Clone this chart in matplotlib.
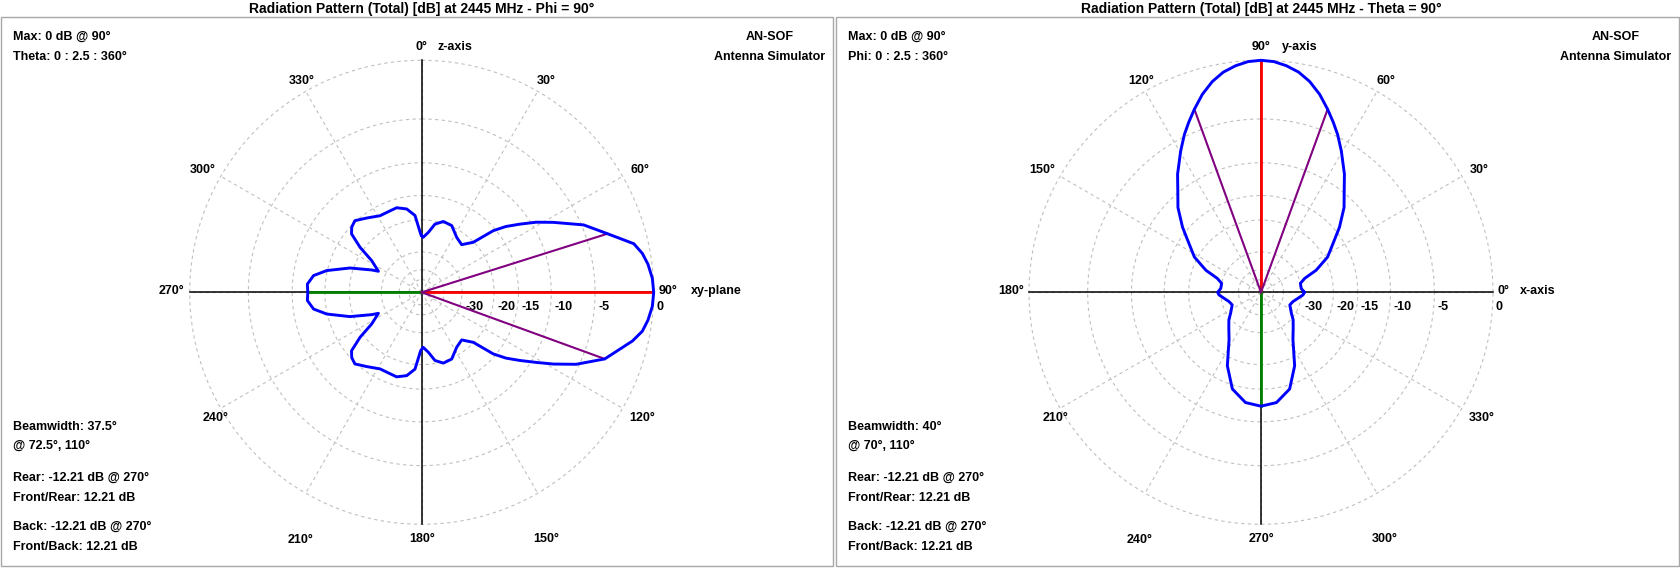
import numpy as np
import matplotlib.pyplot as plt
from matplotlib.patches import Rectangle

W, H = 1681, 568

# Phi = 90 cut, angle theta from z-axis (top), clockwise on screen
theta_deg = [0, 1.5, 6.4, 11, 17, 24.2, 32.5, 40, 45.9, 49.3, 52, 55.2, 58.5, 62, 67.4, 72.5,
             77.1, 80, 82.9, 86.5, 90, 93.5, 97, 100, 103, 110, 115, 118.6, 121.5, 124.8, 128,
             130.7, 134.1, 140, 147.5, 155.8, 163, 169, 173.6, 178.5, 181, 185, 190.2, 196.5,
             203.6, 208.5, 216.5, 223, 227, 230.2, 233.9, 237.6, 244.1, 245.9, 251.3, 257.1,
             261.2, 265.9, 270, 274.1, 278.8, 282.9, 288.7, 294.1, 295.9, 302.4, 306.1, 309.8,
             313, 317, 323.5, 331.5, 336.4, 343.5, 349.8, 355, 359, 360]
theta_db = [-24.2, -24.7, -23.1, -20.7, -19.6, -19.8, -21.8, -22.6, -20.1, -15.4, -13.3, -11.4,
            -9.4, -7.6, -4.8, -3.0, -1.1, -0.6, -0.3, -0.07, 0.0, -0.07, -0.3, -0.6, -1.2, -3.0,
            -5.3, -7.5, -9.4, -11.4, -13.3, -15.4, -20.1, -22.6, -21.8, -19.8, -19.6, -20.7,
            -23.1, -24.7, -23.7, -18.9, -17.3, -16.6, -16.8, -16.8, -15.8, -14.8, -15.2, -16.0,
            -19.1, -23.4, -27.0, -24.8, -19.2, -14.9, -12.9, -12.1, -12.21, -12.1, -12.9, -14.9,
            -19.2, -24.8, -27.0, -23.4, -19.1, -16.0, -15.2, -14.8, -15.8, -16.8, -16.8, -16.6,
            -17.3, -18.9, -23.7, -24.2]

# Theta = 90 cut, angle phi from x-axis (right), counter-clockwise
phi_deg = [0, 5.6, 12.8, 17.7, 21.8, 27.9, 35.3, 39.7, 45.6, 50.6, 54.8, 60.4, 64.1, 67, 70,
           73.5, 77, 80.3, 83.6, 86.8, 90, 93.2, 96.4, 99.7, 103, 106.5, 110, 113, 115.9, 119.6,
           125.2, 129.4, 134.4, 140.3, 144.7, 152.1, 158.2, 162.3, 167.2, 174.4, 180, 183.6,
           196.1, 203.6, 214.4, 220.6, 228, 235.9, 245.4, 253.5, 262, 270, 278, 286.5, 294.6,
           304.1, 312, 319.4, 325.6, 336.4, 343.9, 356.4, 360]
phi_db = [-28.8, -30.0, -30.0, -27.8, -23.4, -19.3, -16.3, -14.1, -11.5, -9.8, -8.1, -6.1, -4.8,
          -3.9, -3.0, -2.0, -1.2, -0.65, -0.3, -0.07, 0.0, -0.07, -0.3, -0.65, -1.2, -2.0, -3.0,
          -3.9, -4.8, -6.1, -8.1, -9.8, -11.5, -14.1, -16.3, -19.3, -23.4, -27.8, -30.0, -30.0,
          -28.8, -29.3, -33.3, -34.3, -31.6, -29.2, -27.0, -24.1, -18.1, -14.3, -12.6, -12.21,
          -12.6, -14.3, -18.1, -24.1, -27.0, -29.2, -31.6, -34.3, -33.3, -29.3, -28.8]

ring_db = [0, -5, -10, -15, -20, -30, -40, -50]
ring_text = ['0', '-5', '-10', '-15', '-20', '-30']
angle_ticks = list(range(0, 360, 30))

FONT = ['Liberation Sans', 'DejaVu Sans']


def arrl(db):
    # ARRL log-periodic radial scale
    return 0.89 ** (-np.asarray(db, dtype=float) / 2.0)


panels = [
    dict(title='Radiation Pattern (Total) [dB] at 2445 MHz - Phi = 90°', cx=421.7, x0=1, x1=833,
         ang=theta_deg, db=theta_db, zero='N', sign=-1, axis_names=('z-axis', 'xy-plane'),
         scan='Theta: 0 : 2.5 : 360°', beam=(72.5, 110), maxang=90, back=270, back_db=-12.21,
         name_dx=(16, 37)),
    dict(title='Radiation Pattern (Total) [dB] at 2445 MHz - Theta = 90°', cx=1261, x0=836, x1=1679,
         ang=phi_deg, db=phi_db, zero='E', sign=1, axis_names=('y-axis', 'x-axis'),
         scan='Phi: 0 : 2.5 : 360°', beam=(70, 110), maxang=90, back=270, back_db=-12.21,
         name_dx=(21, 27)),
]

# screen-angle label offsets in px (dx right, dy down) and alignment
label_off = {0: (0, -13, 'center'), 30: (9, -10, 'center'), 60: (17, -6, 'center'),
             90: (5, -1, 'left'), 120: (20, 10, 'center'), 150: (8, 46, 'center'),
             180: (0, 15, 'center'), 210: (-5, 47, 'center'), 240: (-5, 10, 'center'),
             270: (-5, -1, 'right'), 300: (-18, -6, 'center'), 330: (-4, -10, 'center')}

cy, R = 292.3, 232
fig = plt.figure(figsize=(W / 100, H / 100), dpi=100)
px = 0.72
pairs = []

for p in panels:
    fig.patches.append(Rectangle((p['x0'] / W, 1 - 566 / H), (p['x1'] - p['x0']) / W, (566 - 17) / H,
                                 transform=fig.transFigure, fill=False, ec='#a8a8a8', lw=1))
    ax = fig.add_axes([(p['cx'] - R) / W, 1 - (cy + R) / H, 2 * R / W, 2 * R / H], projection='polar')
    ax.set_theta_zero_location(p['zero'])
    ax.set_theta_direction(p['sign'])
    ax.set_ylim(0, 1)
    ax.axis('off')

    def scr(s, p=p):
        return s if p['sign'] == -1 else (90 - s) % 360

    t = np.linspace(0, 2 * np.pi, 721)
    for d in ring_db:
        ax.plot(t, np.full_like(t, arrl(d)), color='#c0c0c0', lw=0.8, ls=(0, (3, 3)), clip_on=False)
    for a in angle_ticks:
        ax.plot([np.radians(a)] * 2, [0, 1], color='#c0c0c0', lw=0.8, ls=(0, (3, 3)), clip_on=False)
    for s in (0, 90, 180, 270):
        ax.plot([np.radians(scr(s))] * 2, [0, 1], color='black', lw=1.1, clip_on=False)

    # dB ring labels along the screen 90 direction
    for d, lab in zip(ring_db, ring_text):
        ax.annotate(lab, (np.radians(scr(90)), arrl(d)), xytext=(3 * px, -15 * px),
                    textcoords='offset points', ha='left', va='center', fontsize=9,
                    fontweight='bold', family=FONT, annotation_clip=False, zorder=1)

    ax.plot([np.radians(p['maxang'])] * 2, [0, arrl(0)], color='red', lw=2.0, zorder=3)
    ax.plot([np.radians(p['back'])] * 2, [0, arrl(p['back_db'])], color='green', lw=2.0, zorder=3)
    for b in p['beam']:
        ax.plot([np.radians(b)] * 2, [0, arrl(-3)], color='purple', lw=1.5, zorder=3)
    ax.plot(np.radians(p['ang']), arrl(p['db']), color='blue', lw=2.1, zorder=4, clip_on=False,
            solid_joinstyle='round')

    for s in angle_ticks:
        dx, dy, ha = label_off[s]
        ax.annotate(f'{scr(s)}°', (np.radians(scr(s)), 1.0), xytext=(dx * px, -dy * px),
                    textcoords='offset points', ha=ha, va='center', fontsize=9,
                    fontweight='bold', family=FONT, annotation_clip=False)
    ax.annotate(p['axis_names'][0], (np.radians(scr(0)), 1.0), xytext=(p['name_dx'][0] * px, 13 * px),
                textcoords='offset points', ha='left', va='center', fontsize=9,
                fontweight='bold', family=FONT, annotation_clip=False)
    ax.annotate(p['axis_names'][1], (np.radians(scr(90)), 1.0), xytext=(p['name_dx'][1] * px, 1 * px),
                textcoords='offset points', ha='left', va='center', fontsize=9,
                fontweight='bold', family=FONT, annotation_clip=False)

    fig.text(p['cx'] / W, 1 - 9 / H, p['title'], ha='center', va='center', fontsize=10,
             fontweight='bold', family=FONT)
    xl = (p['x0'] + 12) / W
    fig.text(xl, 1 - 37 / H, f"Max: 0 dB @ {p['maxang']}°", ha='left', va='center', fontsize=9,
             fontweight='bold', family=FONT)
    fig.text(xl, 1 - 57 / H, p['scan'], ha='left', va='center', fontsize=9,
             fontweight='bold', family=FONT)
    sim = fig.text((p['x1'] - 8) / W, 1 - 57 / H, 'Antenna Simulator', ha='right', va='center',
                   fontsize=9, fontweight='bold', family=FONT)
    top = fig.text((p['x1'] - 8) / W, 1 - 37 / H, 'AN-SOF', ha='center', va='center', fontsize=9,
                   fontweight='bold', family=FONT)
    pairs.append((sim, top))

    b0, b1 = p['beam']
    rear = p['back_db']
    lines = [(427, f'Beamwidth: {b1 - b0:g}°'), (446, f'@ {b0:g}°, {b1:g}°'),
             (478, f'Rear: {rear:.2f} dB @ {p["back"]}°'), (498, f'Front/Rear: {-rear:.2f} dB'),
             (527, f'Back: {rear:.2f} dB @ {p["back"]}°'), (547, f'Front/Back: {-rear:.2f} dB')]
    for y, s in lines:
        fig.text(xl, 1 - y / H, s, ha='left', va='center', fontsize=9, fontweight='bold', family=FONT)

# centre "AN-SOF" over "Antenna Simulator"
fig.canvas.draw()
r = fig.canvas.get_renderer()
for sim, top in pairs:
    bb = sim.get_window_extent(r)
    top.set_x((bb.x0 + bb.x1) / 2 / W)

fig.savefig('out.png', dpi=100, facecolor='white')
